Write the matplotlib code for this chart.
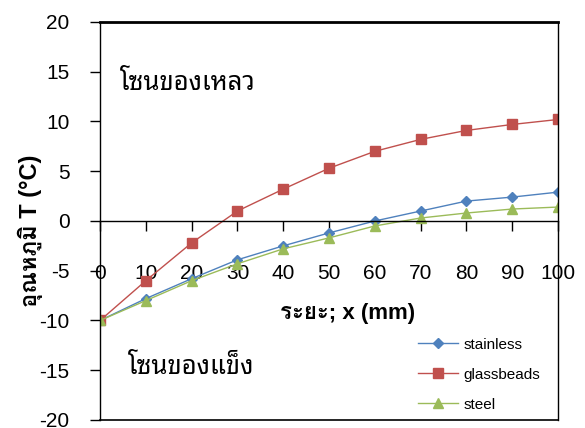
import matplotlib
matplotlib.use("Agg")
import matplotlib.pyplot as plt

# distance from the cold end (mm)
x_mm = [0, 10, 20, 30, 40, 50, 60, 70, 80, 90, 100]

# temperature readings (deg C)
stainless = [-10, -7.8, -5.8, -3.9, -2.5, -1.2, 0.0, 1.0, 2.0, 2.4, 2.9]
glassbeads = [-10, -6.0, -2.2, 1.0, 3.2, 5.3, 7.0, 8.2, 9.1, 9.7, 10.2]
steel = [-10, -8.0, -6.0, -4.3, -2.8, -1.7, -0.5, 0.3, 0.8, 1.2, 1.4]

series_names = ['stainless', 'glassbeads', 'steel']
y_ticks = [-20, -15, -10, -5, 0, 5, 10, 15, 20]
x_ticks = [0, 10, 20, 30, 40, 50, 60, 70, 80, 90, 100]

plt.rcParams['axes.unicode_minus'] = False
latin_thai = ['Liberation Sans', 'Loma']

fig = plt.figure(figsize=(5.85, 4.28), dpi=100)
ax = fig.add_axes([0.171, 0.0187, 0.783, 0.930])

ax.plot(x_mm, stainless, color='#4F81BD', marker='D', markersize=5.5, lw=1, label=series_names[0])
ax.plot(x_mm, glassbeads, color='#C0504D', marker='s', markersize=7, lw=1, label=series_names[1])
ax.plot(x_mm, steel, color='#9BBB59', marker='^', markersize=7, lw=1, label=series_names[2])

ax.set_xlim(0, 100)
ax.set_ylim(-20, 20)

# x axis runs through zero, the frame stays closed at -20
ax.spines['bottom'].set_position(('data', 0))
ax.axhline(-20, color='black', lw=1.2, clip_on=False)
for s in ['left', 'right', 'bottom']:
    ax.spines[s].set_linewidth(1.0)
ax.spines['top'].set_linewidth(2.0)

ax.set_xticks(x_ticks)
ax.set_yticks(y_ticks)
ax.tick_params(axis='x', direction='out', length=7, width=1, pad=24, labelsize=15)
ax.tick_params(axis='y', direction='out', length=7, width=1, pad=15, labelsize=15)
for lab in ax.get_xticklabels() + ax.get_yticklabels():
    lab.set_family('Liberation Sans')

ax.set_xlabel('ระยะ; x (mm)', family=latin_thai, fontsize=16, fontweight='bold')
ax.xaxis.set_label_coords(0.54, 0.293)
ax.set_ylabel('อุณหภูมิ T (°C)', family=latin_thai, fontsize=17, fontweight='bold')
ax.yaxis.set_label_coords(-0.125, 0.475)

ax.text(4.4, 13.8, 'โซนของเหลว', family='Noto Sans Thai Looped', fontsize=18.5, ha='left', va='center')
ax.text(6.1, -14.7, 'โซนของแข็ง', family='Noto Sans Thai Looped', fontsize=18.5, ha='left', va='center')

leg = ax.legend(loc='upper left', bbox_to_anchor=(0.695, 0.207), frameon=False,
                prop={'family': 'Liberation Sans', 'size': 11},
                handlelength=2.6, handletextpad=0.35, labelspacing=1.05,
                borderpad=0, borderaxespad=0)

fig.savefig('out.png', dpi=100)
